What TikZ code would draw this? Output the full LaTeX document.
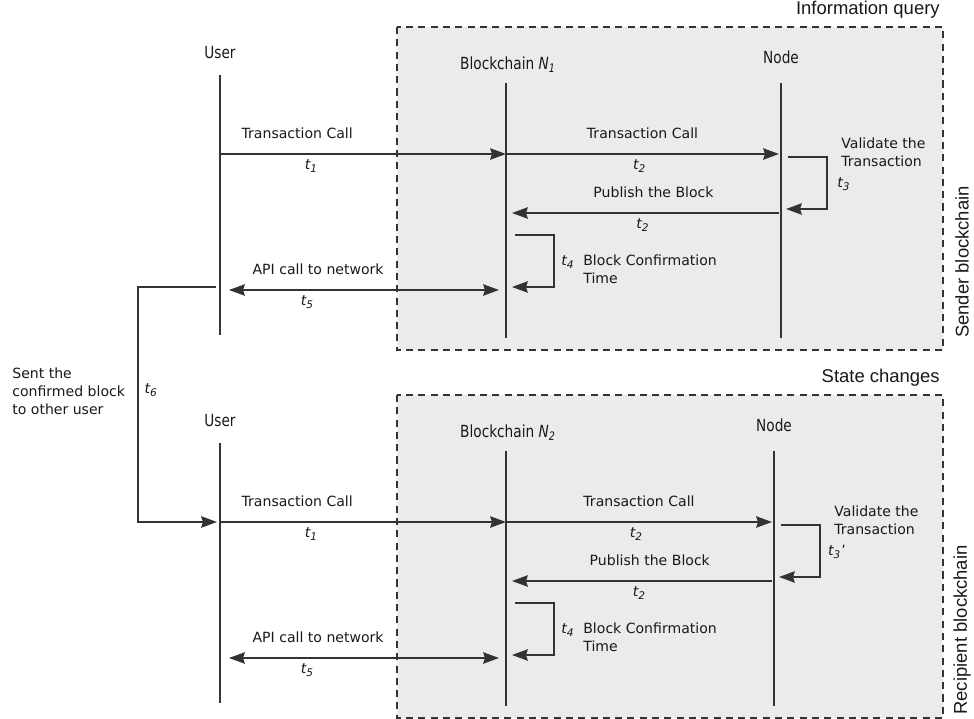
\documentclass[tikz,border=0pt]{standalone}
\usepackage{fontspec}
\setmainfont{DejaVu Sans}
\newfontfamily\headfont{DejaVu Sans}[FakeStretch=0.82]
\newfontfamily\sidefont{Liberation Sans}
\usetikzlibrary{arrows.meta}
\colorlet{linecol}{black!80}
\colorlet{boxcol}{black!8}
\tikzset{
  every node/.style={text=black!90},
  lifeline/.style={draw=linecol, line width=0.85pt},
  boxline/.style={draw=linecol, line width=0.8pt, dash pattern=on 4pt off 3pt},
  msg/.style={lifeline, -{Stealth[length=9pt,width=6.5pt,inset=1pt]}},
  msgboth/.style={lifeline, {Stealth[length=9pt,width=6.5pt,inset=1pt]}-{Stealth[length=9pt,width=6.5pt,inset=1pt]}},
  head/.style={font=\headfont\fontsize{9.5}{11}\selectfont},
  side/.style={font=\sidefont\fontsize{10.5}{12}\selectfont},
  note/.style={align=left, anchor=north west, inner sep=0pt},
  lblup/.style={anchor=base, yshift=9pt},
  lbldown/.style={anchor=base, yshift=-9pt},
}
\newcommand\tsub[2]{\textit{#1\textsubscript{#2}}}

% one panel: suffix, shift, chain name, t3 label, top label, side label, node x
\newcommand\seqpanel[7]{%
\begin{scope}[shift={(0,#2)}]
  \fill[boxcol] (397,27) rectangle (943,350);
  \draw[boxline] (397,27) rectangle (943,350);
  \node[side, anchor=base east, inner sep=0pt] (group#1) at (940,15) {#5};
  \node[side, rotate=90] (side#1) at (962,262) {#6};
  \node[head] (user#1) at (220,53) {User};
  \node[head] (chain#1) at (508,65) {Blockchain #3};
  \node[head] (node#1) at (#7,57) {Node};
  \coordinate (ua#1) at (220,75);  \coordinate (ub#1) at (220,335);
  \coordinate (ca#1) at (506,83);  \coordinate (cb#1) at (506,338);
  \coordinate (na#1) at (#7,83);   \coordinate (nb#1) at (#7,338);
  \draw[lifeline] (ua#1) -- (ub#1);
  \draw[lifeline] (ca#1) -- (cb#1);
  \draw[lifeline] (na#1) -- (nb#1);
  % message ends
  \coordinate (tcu#1) at (220,154); \coordinate (tcc#1) at (506,154);
  \coordinate (tcn#1) at (#7-2,154);
  \coordinate (va#1) at (#7+7,157); \coordinate (vb#1) at (#7+5,209);
  \coordinate (pn#1) at (#7-2,213); \coordinate (pc#1) at (512,213);
  \coordinate (ba#1) at (515,235);  \coordinate (bb#1) at (512,287);
  \coordinate (au#1) at (229,290);  \coordinate (ac#1) at (499,290);
  \coordinate (inu#1) at (217,154); \coordinate (outu#1) at (216,287);
  % messages
  \draw[msg] (tcu#1) -- node[lblup, pos=.27] (tca#1) {Transaction Call}
    node[lbldown, pos=.32] (ta#1) {\tsub{t}{1}} (tcc#1);
  \draw[msg] (tcc#1) -- node[lblup, pos=.5] (tcb#1) {Transaction Call}
    node[lbldown, pos=.49] (tb#1) {\tsub{t}{2}} (tcn#1);
  \draw[msg] (va#1) -- ++(39,0) |- (vb#1);
  \node[note] (val#1) at (#7+60,137) {Validate the\\Transaction};
  \node (tv#1) at (#7+63,184) {#4};
  \draw[msg] (pn#1) -- node[lblup, pos=.47] (pub#1) {Publish the Block}
    node[lbldown, pos=.51] (tp#1) {\tsub{t}{2}} (pc#1);
  \draw[msg] (ba#1) -- ++(39,0) |- (bb#1);
  \node (tc#1) at (568,262) {\tsub{t}{4}};
  \node[note] (conf#1) at (583,254) {Block Confirmation\\Time};
  \draw[msgboth] (au#1) -- node[lblup, pos=.33] (api#1) {API call to network}
    node[lbldown, pos=.29] (td#1) {\tsub{t}{5}} (ac#1);
\end{scope}}

\begin{document}
\begin{tikzpicture}[x=0.02cm, y=-0.02cm, font=\fontsize{8}{10.5}\selectfont]
  \useasboundingbox (0,0) rectangle (974,719);

  \seqpanel{s}{0}{\tsub{N}{1}}{\tsub{t}{3}}{Information query}{Sender blockchain}{781}
  \seqpanel{r}{368}{\tsub{N}{2}}{\tsub{t}{3}'}{State changes}{Recipient blockchain}{774}

  % hand over to the other user
  \draw[msg] (outus) -- ++(-78,0) |- node[right, pos=.22] (te) {\tsub{t}{6}} (inur);
  \node[note] (sent) at (12,367) {Sent the\\confirmed block\\to other user};
\end{tikzpicture}
\end{document}
